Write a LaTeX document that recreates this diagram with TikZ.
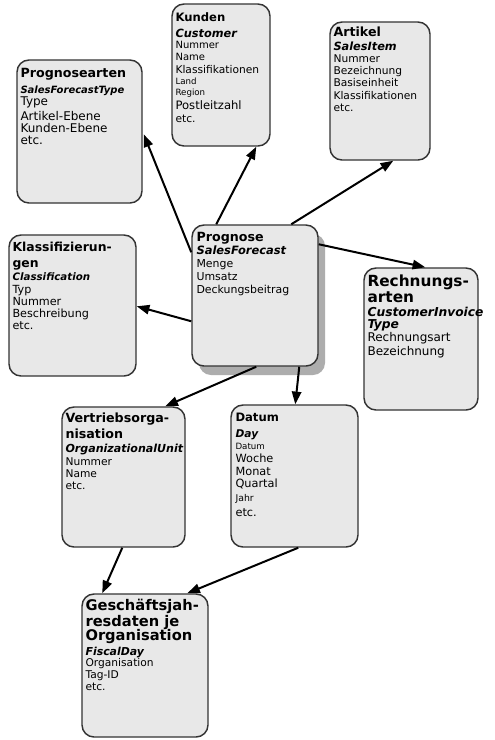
\documentclass[tikz,border=0pt]{standalone}
\usepackage{fontspec}
\setmainfont{DejaVu Sans}
\usetikzlibrary{arrows.meta,calc,fit}
\lineskiplimit=-100pt
\newcommand\ttlsz[2]{{\fontsize{#1}{11}\selectfont\bfseries #2}}
\newcommand\subsz[2]{{\fontsize{#1}{9}\selectfont\bfseries\itshape #2}}
\newcommand\txtsz[2]{{\fontsize{#1}{8}\selectfont #2}}
\begin{document}
\begin{tikzpicture}[x=0.75pt,y=-0.75pt,
  box/.style={draw=black!80, line width=1.1pt, fill=black!9, rounded corners=9pt, inner sep=0pt},
  txt/.style={anchor=north west, inner sep=0pt, align=left, font=\fontsize{8}{9}\selectfont},
  link/.style={line width=1.5pt, -{Triangle[length=9.5pt,width=7pt]}}]
\useasboundingbox (0,0) rectangle (494,740);
\fill[white] (0,0) rectangle (494,740);

% shadow of central box
\fill[black!32, rounded corners=9pt] (199,234) rectangle (325,375);

% boxes
\node[box, fit={(17,60)(142,203)}] (art) {};
\node[box, fit={(172,4)(270,146)}] (kun) {};
\node[box, fit={(330,22)(430,160)}] (ark) {};
\node[box, fit={(9,235)(136,376)}] (kla) {};
\node[box, fit={(192,225)(318,366)}] (prog) {};
\node[box, fit={(364,268)(478,410)}] (rech) {};
\node[box, fit={(62,407)(185,547)}] (vert) {};
\node[box, fit={(231,405)(358,547)}] (dat) {};
\node[box, fit={(82,594)(208,737)}] (fis) {};

% texts
\node[txt, font=\fontsize{9}{9}\selectfont] (artT) at ($(art.north west)+(4,9)$)
  {\ttlsz{9.5}{Prognosearten}\\[3pt]\subsz{7.5}{SalesForecastType}\\Type\\[2.25pt]Artikel-Ebene\\Kunden-Ebene\\[-0.5pt]etc.};
\node[txt] (kunT) at ($(kun.north west)+(4,9)$)
  {\ttlsz{8.7}{Kunden}\\[3pt]\subsz{8.5}{Customer}\\[-0.5pt]\txtsz{7.5}{Nummer}\\[-0.5pt]\txtsz{7.5}{Name}\\[0.75pt]Klassifikationen\\[-0.5pt]\txtsz{6.5}{Land}\\[-0.5pt]\txtsz{6.5}{Region}\\[1.5pt]\txtsz{8.7}{Postleitzahl}\\[0.75pt]etc.};
\node[txt] (arkT) at ($(ark.north west)+(4,5)$)
  {\ttlsz{9.5}{Artikel}\\[1.5pt]\subsz{8.5}{SalesItem}\\Nummer\\Bezeichnung\\Basiseinheit\\[0.75pt]Klassifikationen\\etc.};
\node[txt, font=\fontsize{8.4}{9}\selectfont] (klaT) at ($(kla.north west)+(4,8)$)
  {\ttlsz{9.3}{Klassifizierun-}\\[3pt]\ttlsz{9.3}{gen}\\[0.75pt]\subsz{7.7}{Classification}\\[0.75pt]Typ\\Nummer\\Beschreibung\\etc.};
\node[txt, font=\fontsize{8.2}{9.3}\selectfont] (progT) at ($(prog.north west)+(5,8)$)
  {\ttlsz{9.5}{Prognose}\\[0.5pt]\subsz{8.6}{SalesForecast}\\[0.5pt]Menge\\Umsatz\\[0.5pt]Deckungsbeitrag};
\node[txt, font=\fontsize{9}{10}\selectfont] (rechT) at ($(rech.north west)+(4,7)$)
  {\ttlsz{11.5}{Rechnungs-}\\[2pt]\ttlsz{11.5}{arten}\\[0.5pt]\subsz{9.2}{CustomerInvoice}\\[-1pt]\subsz{9.2}{Type}\\[-0.25pt]Rechnungsart\\[0.5pt]Bezeichnung};
\node[txt] (vertT) at ($(vert.north west)+(4,6)$)
  {\ttlsz{9.5}{Vertriebsorga-}\\[3pt]\ttlsz{9.5}{nisation}\\[1.5pt]\subsz{8.3}{OrganizationalUnit}\\[0.75pt]Nummer\\Name\\etc.};
\node[txt] (datT) at ($(dat.north west)+(5,9)$)
  {\ttlsz{8.7}{Datum}\\[3pt]\subsz{8}{Day}\\\txtsz{6.5}{Datum}\\[0.75pt]\txtsz{8.5}{Woche}\\[0.75pt]\txtsz{8.5}{Monat}\\\txtsz{8.5}{Quartal}\\[1.5pt]\txtsz{7}{Jahr}\\[2.25pt]\txtsz{8.5}{etc.}};
\node[txt] (fisT) at ($(fis.north west)+(4,6)$)
  {\ttlsz{11}{Geschäftsjah-}\\[3pt]\ttlsz{11}{resdaten je}\\[1.5pt]\ttlsz{11}{Organisation}\\[2.25pt]\subsz{8.2}{FiscalDay}\\[-0.75pt]Organisation\\Tag-ID\\etc.};

% connectors
\draw[link] ($(prog.north west)+(0,28)$) -- ($(art.north east)+(1,75)$);
\draw[link] ($(prog.north west)+(25,0)$) -- ($(kun.south west)+(85,0)$);
\draw[link] ($(prog.north west)+(100,0)$) -- ($(ark.south west)+(64,0)$);
\draw[link] ($(prog.north east)+(0,20)$) -- ($(rech.north west)+(62,0)$);
\draw[link] ($(prog.north west)+(0,97)$) -- ($(kla.north east)+(0,72)$);
\draw[link] ($(prog.south west)+(65,0)$) -- ($(vert.north west)+(104,0)$);
\draw[link] ($(prog.south west)+(108,0)$) -- ($(dat.north west)+(65,0)$);
\draw[link] ($(vert.south west)+(61,0)$) -- ($(fis.north west)+(21,0)$);
\draw[link] ($(dat.south west)+(68,0)$) -- ($(fis.north west)+(106,0)$);
\end{tikzpicture}
\end{document}
